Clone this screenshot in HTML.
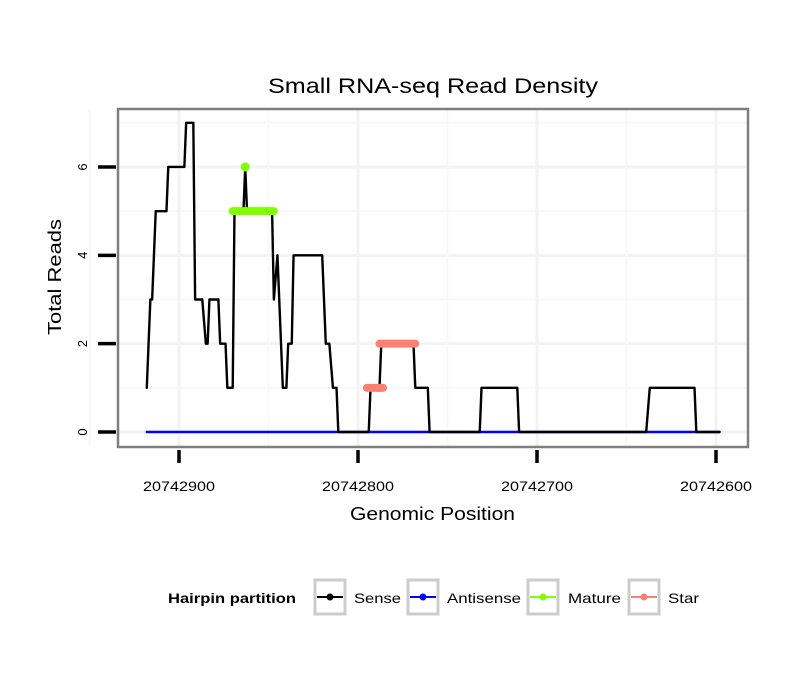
<!DOCTYPE html>
<html><head><meta charset="utf-8"><style>
body{margin:0;background:#fff}
svg{display:block;font-family:"Liberation Sans",sans-serif}
</style></head><body>
<svg id="chart" width="810" height="690" viewBox="0 0 810 690">
<text x="268" y="93" textLength="330" lengthAdjust="spacingAndGlyphs" font-size="21">Small RNA-seq Read Density</text>
<rect x="118" y="109" width="630" height="338" fill="#fff"/>
<g id="grid"></g>
<g id="series"></g>
<rect x="118" y="109" width="630" height="338" fill="none" stroke="#7f7f7f" stroke-width="2.5"/>
<g id="axes"></g>
<text x="350" y="520" textLength="165" lengthAdjust="spacingAndGlyphs" font-size="18">Genomic Position</text>
<text transform="translate(61,335) rotate(-90)" textLength="116" lengthAdjust="spacingAndGlyphs" font-size="18">Total Reads</text>
<g>
<text x="168" y="603" textLength="128" lengthAdjust="spacingAndGlyphs" font-size="14" font-weight="bold">Hairpin partition</text>
<g><rect x="315" y="580" width="30" height="34" fill="#fff" stroke="#ccc" stroke-width="3"/><line x1="317" y1="597" x2="343" y2="597" stroke="#000" stroke-width="2"/><circle cx="330" cy="597" r="3.5" fill="#000"/><text x="354" y="603" textLength="47" lengthAdjust="spacingAndGlyphs" font-size="14">Sense</text></g>
<g><rect x="408" y="580" width="30" height="34" fill="#fff" stroke="#ccc" stroke-width="3"/><line x1="410" y1="597" x2="436" y2="597" stroke="#00f" stroke-width="2"/><circle cx="423" cy="597" r="3.5" fill="#00f"/><text x="447" y="603" textLength="74" lengthAdjust="spacingAndGlyphs" font-size="14">Antisense</text></g>
<g><rect x="528" y="580" width="30" height="34" fill="#fff" stroke="#ccc" stroke-width="3"/><line x1="530" y1="597" x2="556" y2="597" stroke="#7fff00" stroke-width="2"/><circle cx="543" cy="597" r="3.5" fill="#7fff00"/><text x="568" y="603" textLength="53" lengthAdjust="spacingAndGlyphs" font-size="14">Mature</text></g>
<g><rect x="629" y="580" width="30" height="34" fill="#fff" stroke="#ccc" stroke-width="3"/><line x1="631" y1="597" x2="657" y2="597" stroke="#fa8072" stroke-width="2"/><circle cx="644" cy="597" r="3.5" fill="#fa8072"/><text x="668" y="603" textLength="31" lengthAdjust="spacingAndGlyphs" font-size="14">Star</text></g>
</g>
</svg>
<script>
const xTicks=[20742900,20742800,20742700,20742600];
const xTickLabels=["20742900","20742800","20742700","20742600"];
const yTicks=[0,2,4,6];
const senseX=[20742918,20742916,20742915,20742913,20742907,20742906,20742897,20742896,20742892,20742891,20742887,20742885,20742884,20742883,20742878,20742877,20742874,20742873,20742870,20742869,20742864,20742863,20742862,20742848,20742847,20742845,20742842,20742840,20742839,20742837,20742836,20742820,20742818,20742816,20742814,20742812,20742811,20742794,20742793,20742788,20742787,20742769,20742768,20742761,20742760,20742732,20742731,20742711,20742710,20742639,20742637,20742612,20742611,20742598];
const senseY=[1,3,3,5,5,6,6,7,7,3,3,2,2,3,3,2,2,1,1,5,5,6,5,5,3,4,1,1,2,2,4,4,2,2,1,1,0,0,1,1,2,2,1,1,0,0,1,1,0,0,1,1,0,0];
const antisenseX=[20742918,20742598];
const antisenseY=[0,0];
const matureX=[20742870,20742847];
const matureY=[5,5];
const matureDotX=[20742863];
const matureDotY=[6];
const starSegStart=[20742795,20742788];
const starSegEnd=[20742786,20742768];
const starSegY=[1,2];

const NS="http://www.w3.org/2000/svg";
const X=p=>179+(20742900-p)*1.79;
const Y=v=>432-v*44.17;
function mk(tag,attrs,parent){const e=document.createElementNS(NS,tag);for(const k in attrs)e.setAttribute(k,attrs[k]);parent.appendChild(e);return e;}
const grid=document.getElementById('grid'),series=document.getElementById('series'),axes=document.getElementById('axes');
for(let v=0;v<=7;v++){const l=mk('line',{x1:118,x2:748,y1:Y(v),y2:Y(v),stroke:v%2?'#f8f8f8':'#f3f3f3','stroke-width':v%2?2:3},grid);

}
for(let p=20742950;p>=20742600;p-=50){const l=mk('line',{x1:X(p),x2:X(p),y1:109,y2:447,stroke:(p%100)?'#f8f8f8':'#f3f3f3','stroke-width':(p%100)?2:3},grid);

}
function poly(xs,ys,color,w,name){const pts=xs.map((x,i)=>X(x)+','+Y(ys[i])).join(' ');const e=mk('polyline',{points:pts,fill:'none',stroke:color,'stroke-width':w,'stroke-linejoin':'round','stroke-linecap':'round'},series);

}
poly(antisenseX,antisenseY,'#0000ff',2.4,'antisense-line');
poly(senseX,senseY,'#000',2.4,'sense-line');
const mb=mk('line',{x1:X(matureX[0]),x2:X(matureX[1]),y1:Y(matureY[0]),y2:Y(matureY[1]),stroke:'#7fff00','stroke-width':8,'stroke-linecap':'round'},series);


matureDotX.forEach((x,i)=>{const c=mk('circle',{cx:X(x),cy:Y(matureDotY[i]),r:4.5,fill:'#7fff00'},series);

});
starSegStart.forEach((s,i)=>{const l=mk('line',{x1:X(s),x2:X(starSegEnd[i]),y1:Y(starSegY[i]),y2:Y(starSegY[i]),stroke:'#fa8072','stroke-width':8,'stroke-linecap':'round'},series);

});
xTicks.forEach((p,i)=>{const t=mk('line',{x1:X(p),x2:X(p),y1:450,y2:463,stroke:'#000','stroke-width':3.5},axes);


const tx=mk('text',{x:X(p)-36,y:491,textLength:72,lengthAdjust:'spacingAndGlyphs','font-size':14},axes);tx.textContent=xTickLabels[i];

});
yTicks.forEach(v=>{const t=mk('line',{x1:98,x2:116,y1:Y(v),y2:Y(v),stroke:'#000','stroke-width':3.5},axes);


const tx=mk('text',{transform:`translate(87,${Y(v)}) rotate(-90)`,'text-anchor':'middle','font-size':13},axes);tx.textContent=v;

});
</script>
</body></html>
